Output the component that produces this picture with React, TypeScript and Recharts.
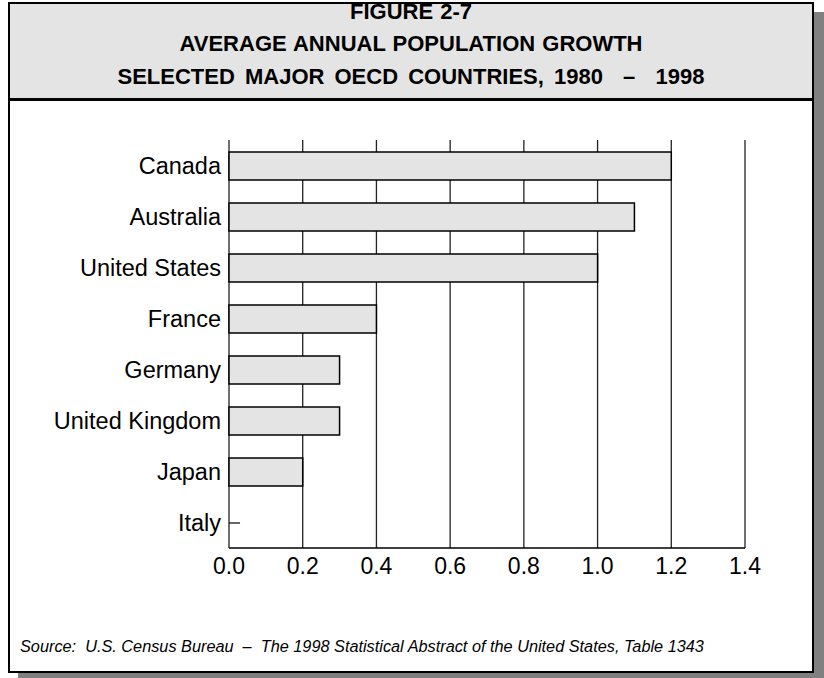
import React from "react";
import { BarChart, Bar, XAxis, YAxis, CartesianGrid } from "recharts";

const countries = [
  "Canada",
  "Australia",
  "United States",
  "France",
  "Germany",
  "United Kingdom",
  "Japan",
  "Italy",
];
const growth = [1.2, 1.1, 1.0, 0.4, 0.3, 0.3, 0.2, 0.03];
const xTicks = [0, 0.2, 0.4, 0.6, 0.8, 1.0, 1.2, 1.4];

const titleLines = [
  "FIGURE 2-7",
  "AVERAGE ANNUAL POPULATION GROWTH",
  "SELECTED MAJOR OECD COUNTRIES, 1980  \u2013  1998",
];
const source =
  "Source:  U.S. Census Bureau  \u2013  The 1998 Statistical Abstract of the United States, Table 1343";

const data = countries.map((name, i) => ({ name, value: growth[i] }));

const FONT = "'Liberation Sans', Arial, sans-serif";

// tiny values show up as a single stub line, like the original
function BarShape(props: any) {
  const { x, y, width, height, value } = props;
  const v = Array.isArray(value) ? value[1] - value[0] : value;
  if (v < 0.05) {
    return (
      <line x1={x} x2={x + width} y1={y + height / 2} y2={y + height / 2} stroke="#000" strokeWidth={1.2} />
    );
  }
  return <rect x={x} y={y} width={width} height={height} fill="#e4e4e4" stroke="#000" strokeWidth={1.5} />;
}

export default function App() {
  return (
    <div style={{ position: "absolute", left: 0, top: 0, width: 824, height: 678, overflow: "hidden", fontFamily: FONT }}>
      <div
        style={{
          position: "absolute",
          left: 8,
          top: 2,
          width: 802,
          height: 667,
          border: "2px solid #000",
          background: "#fff",
          boxShadow: "10px 10px 0 #808080",
        }}
      >
        <div
          style={{
            height: 94,
            background: "#e4e4e4",
            borderBottom: "3px solid #000",
            position: "relative",
          }}
        >
          <div style={{ position: "absolute", left: 0, right: 0, top: -8, textAlign: "center", fontWeight: "bold", fontSize: 22, lineHeight: "32.3px", color: "#000" }}>
            {titleLines.map((t) => (
              <div key={t} style={{ whiteSpace: "pre", wordSpacing: t.startsWith("SEL") ? 4 : 1 }}>{t}</div>
            ))}
          </div>
        </div>
        <div
          style={{
            position: "absolute",
            left: 10,
            top: 633,
            fontStyle: "italic",
            fontSize: 16.3,
            whiteSpace: "pre",
            color: "#000",
          }}
        >
          {source}
        </div>
      </div>
      <div style={{ position: "absolute", left: 0, top: 0 }}>
        <BarChart
          width={824}
          height={678}
          data={data}
          layout="vertical"
          margin={{ top: 140, right: 79, bottom: 90, left: 0 }}
          barSize={28}
        >
          <CartesianGrid horizontal={false} stroke="#222" strokeWidth={1.3} />
          <XAxis
            type="number"
            domain={[0, 1.4]}
            ticks={xTicks}
            tickFormatter={(v: number) => v.toFixed(1)}
            tickLine={false}
            axisLine={{ stroke: "#000", strokeWidth: 1.5 }}
            tick={{ fill: "#000", fontSize: 23, fontFamily: FONT }}
            tickMargin={4}
            height={40}
          />
          <YAxis
            type="category"
            dataKey="name"
            width={229}
            tickLine={false}
            axisLine={false}
            tick={{ fill: "#000", fontSize: 23.5, fontFamily: FONT }}
            interval={0}
          />
          <Bar dataKey="value" shape={BarShape} isAnimationActive={false} />
        </BarChart>
      </div>
    </div>
  );
}
